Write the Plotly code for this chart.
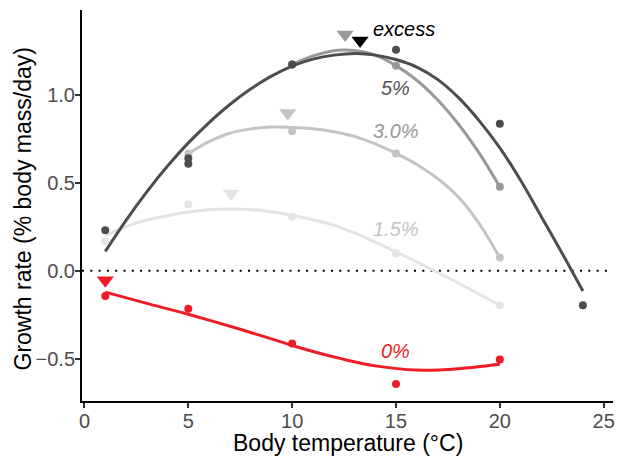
import plotly.graph_objects as go

excess_x = [1, 5, 5, 10, 15, 20, 24]
excess_y = [0.231, 0.64, 0.61, 1.175, 1.259, 0.837, -0.197]

p5_x = [10, 15, 20]
p5_y = [1.175, 1.168, 0.478]

p30_x = [5, 10, 15, 20]
p30_y = [0.668, 0.795, 0.668, 0.075]

p15_x = [1, 5, 10, 15, 20]
p15_y = [0.168, 0.377, 0.307, 0.098, -0.197]

p0_x = [1, 5, 10, 15, 20]
p0_y = [-0.144, -0.216, -0.415, -0.645, -0.506]

# ---- fitted curves ----
excess_fit_x = [1, 2, 3, 4, 5, 6, 7, 8, 9, 10, 11, 12, 13.1, 14, 15, 16, 17, 18, 19, 20, 21, 22, 23, 24]
excess_fit_y = [0.11, 0.287, 0.449, 0.596, 0.728, 0.844, 0.947, 1.035, 1.108, 1.165, 1.205, 1.228, 1.237,
                1.228, 1.203, 1.16, 1.09, 0.987, 0.855, 0.70, 0.515, 0.308, 0.10, -0.115]

p5_fit_x = [10, 11, 12, 12.5, 13, 14, 15, 16, 17, 18, 19, 20]
p5_fit_y = [1.175, 1.224, 1.253, 1.257, 1.254, 1.228, 1.168, 1.085, 0.974, 0.836, 0.671, 0.478]

p30_fit_x = [5, 6, 7, 8, 9, 10, 11, 12, 13, 14, 15, 16, 17, 18, 19, 20]
p30_fit_y = [0.668, 0.735, 0.783, 0.808, 0.818, 0.816, 0.808, 0.792, 0.765, 0.722, 0.668,
             0.605, 0.525, 0.42, 0.27, 0.075]

p15_fit_x = [1, 2.5, 5, 7, 8.5, 10, 11, 12, 13, 14, 15, 16, 17, 18, 19, 20]
p15_fit_y = [0.20, 0.272, 0.335, 0.352, 0.343, 0.316, 0.29, 0.26, 0.215, 0.163, 0.107,
             0.05, -0.01, -0.07, -0.133, -0.197]

p0_fit_x = [1, 3, 5, 7.5, 10, 11, 12.5, 14, 16, 18, 20]
p0_fit_y = [-0.122, -0.186, -0.248, -0.333, -0.425, -0.46, -0.505, -0.542, -0.566, -0.558, -0.533]

# optimum markers (triangles)
opt_x = [13.27, 12.55, 9.79, 7.06, 1.0]
opt_y = [1.311, 1.345, 0.898, 0.44, -0.054]

series_names = ["excess", "5%", "3.0%", "1.5%", "0%"]
line_colors = ["#4d4d4d", "#999999", "#c4c4c4", "#e4e4e4", "#ee1c25"]
tri_colors = ["#000000", "#999999", "#c4c4c4", "#e4e4e4", "#ee1c25"]
label_colors = ["#000000", "#555555", "#999999", "#c4c4c4", "#ee1c25"]
label_x = [15.4, 15.0, 15.0, 15.0, 15.0]
label_y = [1.375, 1.04, 0.795, 0.237, -0.459]

x_ticks = [0, 5, 10, 15, 20, 25]
y_ticks = [-0.5, 0, 0.5, 1.0]
y_ticktext = ["−0.5", "0.0", "0.5", "1.0"]

pts_x = [excess_x, p5_x, p30_x, p15_x, p0_x]
pts_y = [excess_y, p5_y, p30_y, p15_y, p0_y]
fit_x = [excess_fit_x, p5_fit_x, p30_fit_x, p15_fit_x, p0_fit_x]
fit_y = [excess_fit_y, p5_fit_y, p30_fit_y, p15_fit_y, p0_fit_y]

FONT = "Liberation Sans, Arial, sans-serif"

fig = go.Figure()

# zero reference line (dotted)
fig.add_hline(y=0, line=dict(color="black", width=2, dash="2px,6.3px"), layer="below")

draw_order = [3, 2, 1, 0, 4]
for i in draw_order:
    fig.add_trace(go.Scatter(x=fit_x[i], y=fit_y[i], mode="lines",
                             line=dict(color=line_colors[i], width=3, shape="spline", smoothing=0.8),
                             showlegend=False, hoverinfo="skip"))
for i in draw_order:
    fig.add_trace(go.Scatter(x=pts_x[i], y=pts_y[i], mode="markers",
                             marker=dict(color=line_colors[i], size=8),
                             showlegend=False, name=series_names[i]))

fig.add_trace(go.Scatter(x=opt_x, y=opt_y, mode="markers",
                         marker=dict(symbol="triangle-down", size=15, color=tri_colors),
                         showlegend=False))

for name, lx, ly, c in zip(series_names, label_x, label_y, label_colors):
    fig.add_annotation(x=lx, y=ly, text=f"<i>{name}</i>", showarrow=False,
                       font=dict(family=FONT, size=20, color=c))

# axis titles
fig.add_annotation(xref="paper", yref="paper", x=0.5, y=0, xanchor="center", yanchor="middle",
                   yshift=-42, text="Body temperature (°C)", showarrow=False,
                   font=dict(family=FONT, size=23, color="black"))
fig.add_annotation(xref="paper", yref="paper", x=0, y=0.5, xanchor="center", yanchor="middle",
                   xshift=-60, yshift=-4, textangle=-90, text="Growth rate (% body mass/day)",
                   showarrow=False, font=dict(family=FONT, size=23, color="black"))

axis_common = dict(showline=True, linecolor="black", linewidth=2,
                   ticks="outside", ticklen=5, tickwidth=2, tickcolor="#333333",
                   showgrid=False, zeroline=False, automargin=False,
                   ticklabelstandoff=-4,
                   tickfont=dict(family=FONT, size=20, color="#4d4d4d"))

fig.update_xaxes(range=[-0.12, 25.45], tickvals=x_ticks, **axis_common)
fig.update_yaxes(range=[-0.742, 1.485], tickvals=y_ticks, ticktext=y_ticktext, **axis_common)

fig.update_layout(width=618, height=460, plot_bgcolor="white", paper_bgcolor="white",
                  margin=dict(l=82, r=5, t=10, b=59), hovermode=False)

# remove the default page margin / scrollbars so the figure fills the window exactly
fig.write_html("out.html", config={"displayModeBar": False, "staticPlot": True}, post_script=(
    "document.body.style.margin='0';"
    "document.body.style.overflow='hidden';"
    "document.documentElement.style.overflow='hidden';"))
